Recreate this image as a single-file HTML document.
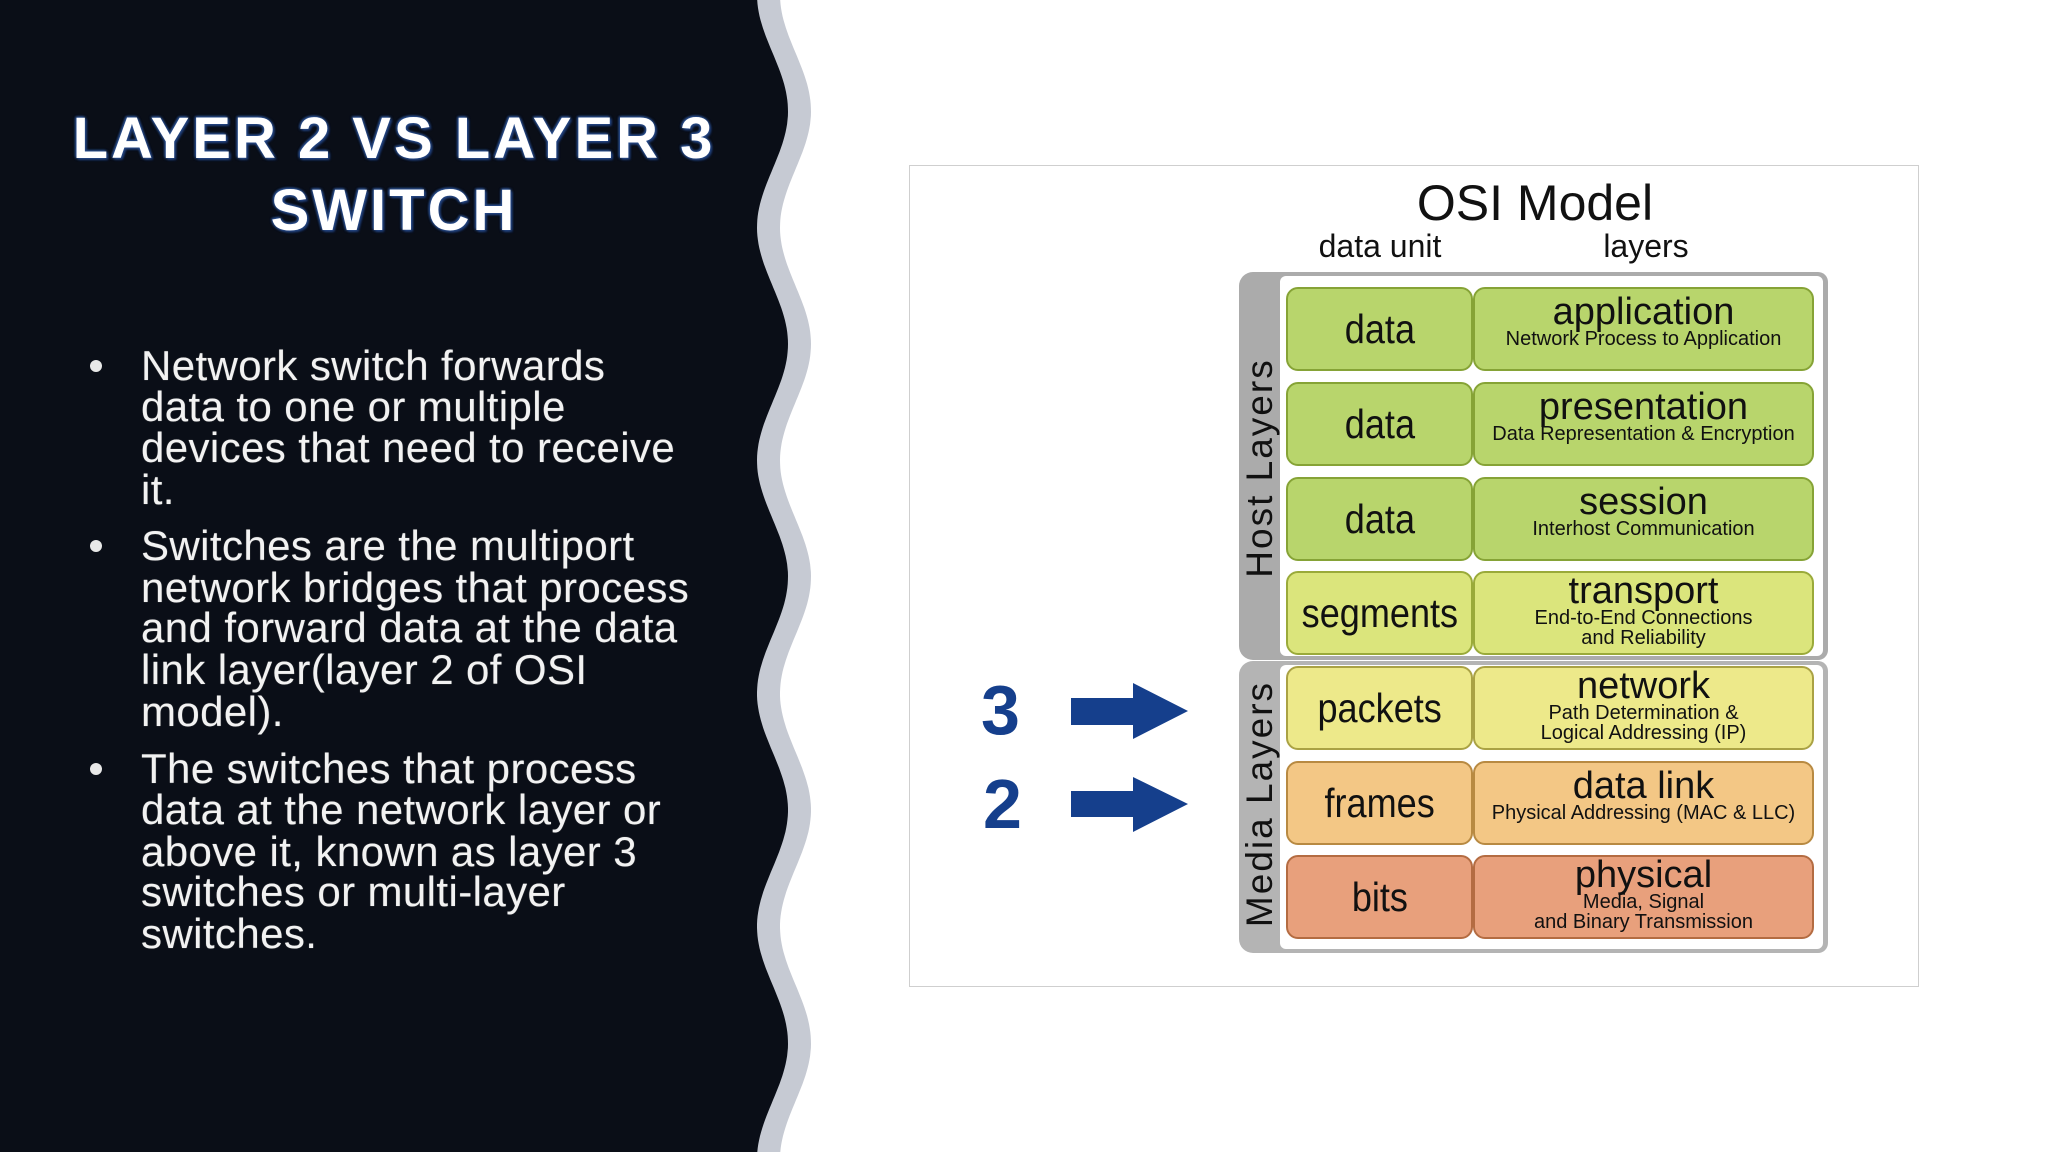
<!DOCTYPE html>
<html><head><meta charset="utf-8">
<style>
html,body{margin:0;padding:0}
body{width:2048px;height:1152px;position:relative;overflow:hidden;background:#fff;font-family:"Liberation Sans",sans-serif}
.abs{position:absolute}
#title{left:0;width:788px;text-align:center;color:#fff;font-weight:bold;font-size:58px;letter-spacing:3px;line-height:72px;top:103px;
text-shadow:0 0 3px #2a4f8f,0 0 3px #2a4f8f,2px 2px 2px #1a3366,-1px -1px 2px #2a4f8f}
.ln{position:absolute;left:141px;color:#f2f2f2;font-size:42px;line-height:40px;white-space:nowrap;letter-spacing:0.4px;
text-shadow:0 0 1px #777}
.bul{position:absolute;left:90px;width:12px;height:12px;border-radius:50%;background:#e8e8e8}
#frame{left:909px;top:165px;width:1010px;height:822px;border:1px solid #cfcfcf;box-sizing:border-box;background:#fff}
.cell{position:absolute;box-sizing:border-box;border:2px solid;border-radius:12px;text-align:center;color:#111}
.du{left:1286px;width:187px;height:84px;font-size:41px;line-height:80px}
.du span{display:inline-block;transform:scaleX(.88)}
.ly{left:1473px;width:341px;height:84px}
.ly b{display:block;font-weight:normal;font-size:38px;line-height:34px;margin-top:6px}
.ly i{display:block;font-style:normal;font-size:20px;line-height:20px}
.g{background:#b8d56c;border-color:#86a336}
.s{background:#dbe57c;border-color:#9aaa3a}
.p{background:#ede98a;border-color:#aaa244}
.f{background:#f3c785;border-color:#b88a42}
.b{background:#e8a07c;border-color:#b46c42}
.vl{position:absolute;font-size:37px;letter-spacing:2px;color:#111;transform:rotate(-90deg);transform-origin:center;white-space:nowrap;text-align:center;width:300px;height:40px;line-height:40px}
</style></head><body>
<svg class="abs" style="left:0;top:0" width="2048" height="1152"><path id="gray" fill="#c6cad3"/><path id="dark" fill="#0a0e17"/></svg>
<script>
(function(){
function edge(off){var p=[];for(var y=0;y<=1152;y+=4){var x=772.5+off+15.5*Math.cos(2*Math.PI*(y-111)/233);p.push(x.toFixed(1)+','+y);}return p;}
var d=edge(0),g=edge(23);
document.getElementById('dark').setAttribute('d','M0,0 L'+d.join(' L')+' L0,1152 Z');
document.getElementById('gray').setAttribute('d','M0,0 L'+g.join(' L')+' L0,1152 Z');
})();
</script>
<div id="title" class="abs">LAYER 2 VS LAYER 3<br>SWITCH</div>

<div class="bul" style="top:360px"></div>
<div class="ln" style="top:346px">Network switch forwards</div>
<div class="ln" style="top:387px">data to one or multiple</div>
<div class="ln" style="top:428px">devices that need to receive</div>
<div class="ln" style="top:470px">it.</div>
<div class="bul" style="top:540px"></div>
<div class="ln" style="top:526px">Switches are the multiport</div>
<div class="ln" style="top:568px">network bridges that process</div>
<div class="ln" style="top:608px">and forward data at the data</div>
<div class="ln" style="top:650px">link layer(layer 2 of OSI</div>
<div class="ln" style="top:692px">model).</div>
<div class="bul" style="top:763px"></div>
<div class="ln" style="top:749px">The switches that process</div>
<div class="ln" style="top:790px">data at the network layer or</div>
<div class="ln" style="top:832px">above it, known as layer 3</div>
<div class="ln" style="top:872px">switches or multi-layer</div>
<div class="ln" style="top:914px">switches.</div>

<div id="frame" class="abs"></div>
<div class="abs" style="left:1335px;width:400px;text-align:center;top:174px;font-size:50px;color:#111">OSI Model</div>
<div class="abs" style="left:1280px;width:200px;text-align:center;top:228px;font-size:32px;color:#111">data unit</div>
<div class="abs" style="left:1546px;width:200px;text-align:center;top:228px;font-size:32px;color:#111">layers</div>

<div class="abs" style="left:1239px;top:272px;width:589px;height:388px;background:#ababab;border-radius:14px 10px 10px 14px"></div>
<div class="abs" style="left:1239px;top:661px;width:589px;height:292px;background:#b4b4b4;border-radius:14px 10px 10px 14px"></div>
<div class="abs" style="left:1280px;top:276px;width:543px;height:380px;background:#fff;border-radius:6px"></div>
<div class="abs" style="left:1280px;top:665px;width:543px;height:284px;background:#fff;border-radius:6px"></div>
<div class="vl" style="left:1110px;top:448px">Host Layers</div>
<div class="vl" style="left:1110px;top:784px">Media Layers</div>

<div class="cell du g" style="top:287px"><span>data</span></div>
<div class="cell ly g" style="top:287px"><b>application</b><i>Network Process to Application</i></div>
<div class="cell du g" style="top:382px"><span>data</span></div>
<div class="cell ly g" style="top:382px"><b>presentation</b><i>Data Representation &amp; Encryption</i></div>
<div class="cell du g" style="top:477px"><span>data</span></div>
<div class="cell ly g" style="top:477px"><b>session</b><i>Interhost Communication</i></div>
<div class="cell du s" style="top:571px"><span>segments</span></div>
<div class="cell ly s" style="top:571px"><b style="margin-top:1px">transport</b><i>End-to-End Connections<br>and Reliability</i></div>
<div class="cell du p" style="top:666px"><span>packets</span></div>
<div class="cell ly p" style="top:666px"><b style="margin-top:1px">network</b><i>Path Determination &amp;<br>Logical Addressing (IP)</i></div>
<div class="cell du f" style="top:761px"><span>frames</span></div>
<div class="cell ly f" style="top:761px"><b>data link</b><i>Physical Addressing (MAC &amp; LLC)</i></div>
<div class="cell du b" style="top:855px"><span>bits</span></div>
<div class="cell ly b" style="top:855px"><b style="margin-top:1px">physical</b><i>Media, Signal<br>and Binary Transmission</i></div>

<div class="abs" style="left:981px;top:672px;font-size:70px;font-weight:bold;color:#153f8c;line-height:76px">3</div>
<div class="abs" style="left:983px;top:766px;font-size:70px;font-weight:bold;color:#153f8c;line-height:76px">2</div>
<svg class="abs" style="left:0;top:0" width="2048" height="1152">
<polygon fill="#153f8c" points="1071,698 1133,698 1133,683 1188,711 1133,739 1133,725 1071,725"/>
<polygon fill="#153f8c" points="1071,791 1133,791 1133,777 1188,804 1133,832 1133,817 1071,817"/>
</svg>
</body></html>
